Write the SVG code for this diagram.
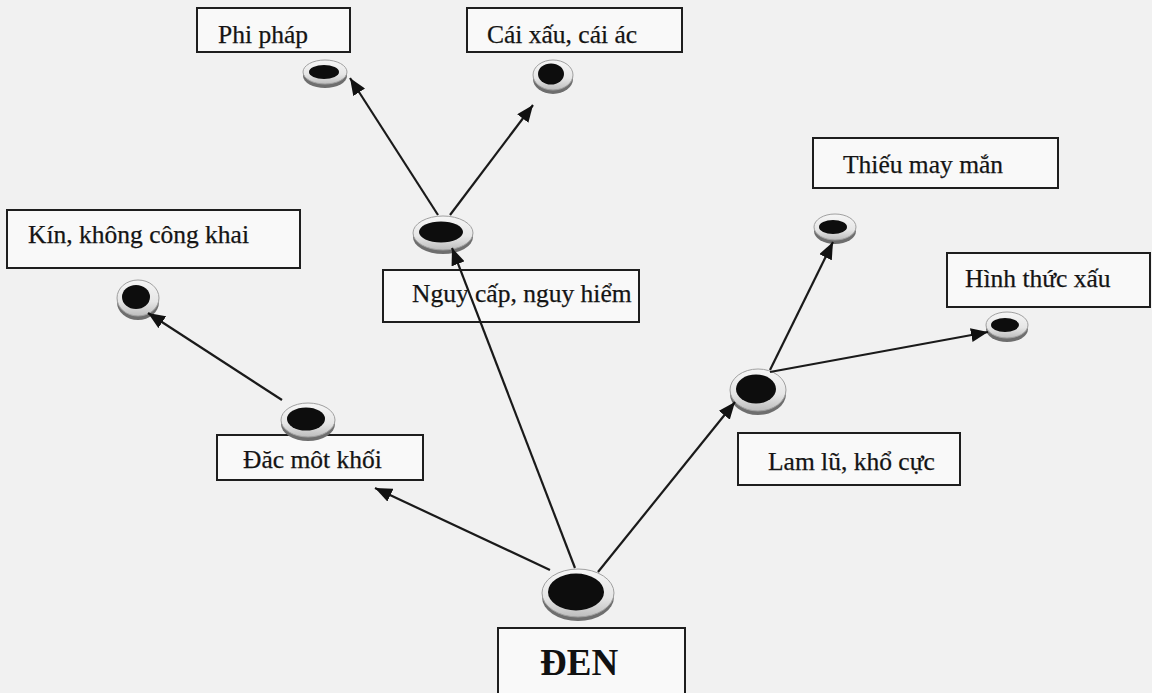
<svg xmlns="http://www.w3.org/2000/svg" width="1152" height="693" viewBox="0 0 1152 693">
<style>
.box{fill:#f9f9f9;stroke:#1e1e1e;stroke-width:2}
.lbl{font-family:"Liberation Serif","Times New Roman",serif;font-size:25.5px;fill:#141414;stroke:#141414;stroke-width:0.25}
.big{font-family:"Liberation Serif","Times New Roman",serif;font-size:37px;font-weight:bold;fill:#111}
.sh{fill:#6e6e6e}
.rim{fill:url(#rimg);stroke:#a0a0a0;stroke-width:1}
.core{fill:#0d0d0d}
.conn line{stroke:#1a1a1a;stroke-width:2.2;marker-end:url(#ah)}
</style>
<defs>
<linearGradient id="rimg" x1="0" y1="0" x2="0" y2="1">
<stop offset="0" stop-color="#f6f6f6"/>
<stop offset="0.6" stop-color="#e6e6e6"/>
<stop offset="1" stop-color="#bdbdbd"/>
</linearGradient>
<marker id="ah" markerUnits="userSpaceOnUse" markerWidth="18" markerHeight="14" refX="17" refY="7" orient="auto">
<path d="M0,0 L17,7 L0,14 z" fill="#111"/>
</marker>
</defs>
<rect x="0" y="0" width="1152" height="693" fill="#f1f1f1"/>

<g id="node-phi-phap">
<rect class="box" x="197" y="8" width="153" height="44"/>
<text class="lbl" x="218" y="43">Phi pháp</text>
<ellipse class="sh" cx="325" cy="76" rx="22" ry="12"/>
<ellipse class="rim" cx="325" cy="72" rx="22" ry="12"/>
<ellipse class="core" cx="324" cy="72" rx="15" ry="7"/>
</g>

<g id="node-cai-xau">
<rect class="box" x="467" y="8" width="215" height="44"/>
<text class="lbl" x="487" y="43">Cái xấu, cái ác</text>
<ellipse class="sh" cx="553" cy="79" rx="20" ry="15"/>
<ellipse class="rim" cx="553" cy="75" rx="20" ry="15"/>
<ellipse class="core" cx="551" cy="74" rx="13" ry="10.5"/>
</g>

<g id="node-kin">
<rect class="box" x="7" y="210" width="293" height="58"/>
<text class="lbl" x="28" y="243">Kín, không công khai</text>
<ellipse class="sh" cx="138" cy="302" rx="21" ry="18"/>
<ellipse class="rim" cx="138" cy="298" rx="21" ry="18"/>
<ellipse class="core" cx="136" cy="297" rx="14" ry="12"/>
</g>

<g id="node-nguy-cap">
<rect class="box" x="383" y="270" width="256" height="52"/>
<text class="lbl" x="412" y="302">Nguy cấp, nguy hiểm</text>
<ellipse class="sh" cx="443" cy="237" rx="30" ry="17"/>
<ellipse class="rim" cx="443" cy="233" rx="30" ry="17"/>
<ellipse class="core" cx="441" cy="232" rx="22" ry="10.5"/>
</g>

<g id="node-thieu">
<rect class="box" x="813" y="138" width="245" height="50"/>
<text class="lbl" x="843" y="173">Thiếu may mắn</text>
<ellipse class="sh" cx="835" cy="231" rx="21" ry="13"/>
<ellipse class="rim" cx="835" cy="227" rx="21" ry="13"/>
<ellipse class="core" cx="833" cy="227" rx="14" ry="7"/>
</g>

<g id="node-hinh-thuc">
<rect class="box" x="947" y="253" width="203" height="54"/>
<text class="lbl" x="965" y="287">Hình thức xấu</text>
<ellipse class="sh" cx="1007" cy="329" rx="21" ry="13"/>
<ellipse class="rim" cx="1007" cy="325" rx="21" ry="13"/>
<ellipse class="core" cx="1005" cy="325" rx="14" ry="7"/>
</g>

<g id="node-dac">
<rect class="box" x="217" y="435" width="206" height="45"/>
<text class="lbl" x="243" y="468">Đăc môt khối</text>
<ellipse class="sh" cx="308" cy="424" rx="27" ry="17"/>
<ellipse class="rim" cx="308" cy="420" rx="27" ry="17"/>
<ellipse class="core" cx="306" cy="419" rx="19" ry="11.5"/>
</g>

<g id="node-lam-lu">
<rect class="box" x="738" y="433" width="222" height="52"/>
<text class="lbl" x="768" y="470">Lam lũ, khổ cực</text>
<ellipse class="sh" cx="758" cy="394" rx="28" ry="21"/>
<ellipse class="rim" cx="758" cy="390" rx="28" ry="21"/>
<ellipse class="core" cx="756" cy="389" rx="20" ry="14.5"/>
</g>

<g id="node-den">
<rect class="box" x="498" y="628" width="187" height="72"/>
<text class="big" x="540" y="675">ĐEN</text>
<ellipse class="sh" cx="578" cy="597" rx="36" ry="24"/>
<ellipse class="rim" cx="578" cy="593" rx="36" ry="24"/>
<ellipse class="core" cx="576" cy="592" rx="28" ry="18.5"/>
</g>

<g id="connectors" class="conn">
<line x1="438" y1="215" x2="350" y2="78"/>
<line x1="450" y1="215" x2="533" y2="105"/>
<line x1="282" y1="400" x2="148" y2="313"/>
<line x1="550" y1="570" x2="375" y2="488"/>
<line x1="575" y1="568" x2="452" y2="248"/>
<line x1="598" y1="572" x2="735" y2="402"/>
<line x1="770" y1="370" x2="833" y2="242"/>
<line x1="770" y1="372" x2="988" y2="332"/>
</g>
</svg>
